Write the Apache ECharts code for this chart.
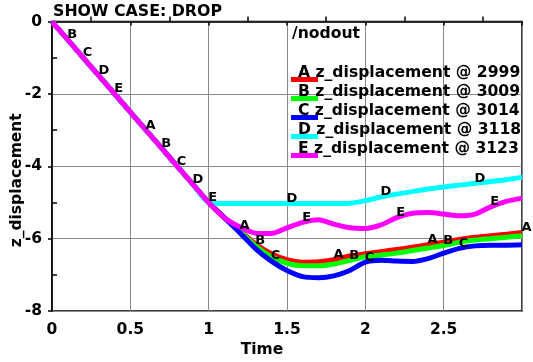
<!DOCTYPE html>
<html><head><meta charset="utf-8">
<script src="https://cdn.jsdelivr.net/npm/echarts@6/dist/echarts.min.js"></script>
<style>html,body{margin:0;padding:0;background:#fff}#c{width:533px;height:362px}</style>
</head><body><div id="c"></div>
<script>
// ---- data ----
const times = [0,0.1,0.2,0.3,0.4,0.5,0.6,0.7,0.8,0.9,1.0,1.1,1.2,1.3,1.4,1.5,1.6,1.7,1.8,1.9,2.0,2.1,2.2,2.3,2.4,2.5,2.6,2.7,2.8,2.9,3.0];
const seriesNames = ['A z_displacement @ 2999','B z_displacement @ 3009','C z_displacement @ 3014','D z_displacement @ 3118','E z_displacement @ 3123'];
const letters = ['A','B','C','D','E'];
const valuesA = [0,-0.5,-1.0,-1.5,-2.0,-2.5,-3.0,-3.5,-4.0,-4.5,-5.0,-5.42,-5.78,-6.15,-6.42,-6.58,-6.65,-6.64,-6.58,-6.48,-6.42,-6.36,-6.30,-6.24,-6.17,-6.10,-6.02,-5.96,-5.92,-5.88,-5.83];
const valuesB = [0,-0.5,-1.0,-1.5,-2.0,-2.5,-3.0,-3.5,-4.0,-4.5,-5.0,-5.42,-5.80,-6.20,-6.50,-6.68,-6.75,-6.75,-6.70,-6.60,-6.50,-6.45,-6.40,-6.33,-6.26,-6.19,-6.10,-6.04,-6.00,-5.96,-5.92];
const valuesC = [0,-0.5,-1.0,-1.5,-2.0,-2.5,-3.0,-3.5,-4.0,-4.5,-5.0,-5.42,-5.84,-6.28,-6.62,-6.88,-7.05,-7.08,-7.03,-6.88,-6.65,-6.60,-6.62,-6.63,-6.55,-6.40,-6.27,-6.20,-6.18,-6.18,-6.17];
const valuesD = [0,-0.5,-1.0,-1.5,-2.0,-2.5,-3.0,-3.5,-4.0,-4.5,-5.0,-5.03,-5.03,-5.03,-5.03,-5.03,-5.03,-5.03,-5.03,-5.02,-4.95,-4.85,-4.77,-4.70,-4.63,-4.57,-4.52,-4.47,-4.42,-4.37,-4.30];
const valuesE = [0,-0.5,-1.0,-1.5,-2.0,-2.5,-3.0,-3.5,-4.0,-4.5,-5.0,-5.42,-5.68,-5.85,-5.86,-5.70,-5.55,-5.48,-5.60,-5.70,-5.72,-5.62,-5.42,-5.30,-5.28,-5.32,-5.37,-5.32,-5.12,-4.97,-4.88];
const labelTimesA = [0.6,1.2,1.8,2.4,3.0];
const labelTimesB = [0.1,0.7,1.3,1.9,2.5];
const labelTimesC = [0.2,0.8,1.4,2.0,2.6];
const labelTimesD = [0.3,0.9,1.5,2.1,2.7];
const labelTimesE = [0.4,1.0,1.6,2.2,2.8];
const xTickValues = [0,0.5,1,1.5,2,2.5,3];
const yTickValues = [-8,-6,-4,-2,0];

// ---- build ----
const allValues = [valuesA,valuesB,valuesC,valuesD,valuesE];
const allLabelTimes = [labelTimesA,labelTimesB,labelTimesC,labelTimesD,labelTimesE];
const colors = ['#ff0000','#00ff00','#0000ff','#00ffff','#ff00ff'];
const FONT = 'DejaVu Sans';

function interp(vals, t){
  for (let i=0;i<times.length-1;i++){
    if (t>=times[i]-1e-9 && t<=times[i+1]+1e-9){
      const f=(t-times[i])/(times[i+1]-times[i]);
      return vals[i]+(vals[i+1]-vals[i])*f;
    }
  }
  return vals[vals.length-1];
}

const series = [];
seriesNames.forEach((name,i)=>{
  series.push({
    name, type:'line', data: times.map((t,j)=>[t, allValues[i][j]]),
    showSymbol:false, smooth:0.25, color: colors[i],
    lineStyle:{width:5, color: colors[i]}, z: 2+i*0.01, animation:false
  });
});
letters.forEach((L,i)=>{
  series.push({
    type:'scatter', symbolSize:1, itemStyle:{color:'rgba(0,0,0,0)'}, z:10, animation:false, silent:true,
    data: allLabelTimes[i].map(t=>[t, interp(allValues[i], t)]),
    label:{show:true, formatter:L, position:[0,2], align:'left', verticalAlign:'bottom', opacity:1,
      color:'#000', fontFamily:FONT, fontWeight:'bold', fontSize:13}
  });
});

const chart = echarts.init(document.getElementById('c'), null, {renderer:'canvas'});
chart.setOption({
  backgroundColor:'#fff',
  animation:false,
  title:[
    {text:'SHOW CASE: DROP', left:53, top:4, padding:0, textStyle:{fontFamily:FONT, fontWeight:'bold', fontSize:15.8, color:'#000'}},
    {text:'/nodout', left:292, top:26, padding:0, textStyle:{fontFamily:FONT, fontWeight:'bold', fontSize:15.6, color:'#000'}}
  ],
  legend:{
    data: seriesNames, orient:'vertical', left:291, top:63, padding:0,
    itemWidth:27, itemHeight:19, itemGap:0, selectedMode:false,
    icon:'path://M0,0L27,0L27,0.01L0,0.01Z M0,14L27,14L27,19L0,19Z',
    textStyle:{fontFamily:FONT, fontWeight:'bold', fontSize:15.6, color:'#000', padding:[0,0,0,-25]}
  },
  grid:{left:52, top:21.6, right:11, bottom:51, containLabel:false, outerBoundsMode:'none', show:true, borderColor:'#000', borderWidth:1.5, backgroundColor:'transparent'},
  xAxis:{
    type:'value', min:xTickValues[0], max:xTickValues[xTickValues.length-1], interval:0.5,
    name:'Time', nameLocation:'middle', nameGap:31, nameMoveOverlap:false,
    nameTextStyle:{fontFamily:FONT, fontWeight:'bold', fontSize:15.5, color:'#000', padding:[0,50,0,0]},
    axisLine:{lineStyle:{color:'#000', width:1.5}},
    axisTick:{show:true, inside:false, length:4, lineStyle:{color:'#000', width:1.5}},
    minorTick:{show:true, splitNumber:2, length:-5, lineStyle:{color:'#000', width:1.5}},
    splitLine:{show:true, lineStyle:{color:'#888', width:1}},
    axisLabel:{showMaxLabel:false, margin:11, fontFamily:FONT, fontWeight:'bold', fontSize:15.5, color:'#000'}
  },
  yAxis:{
    type:'value', min:yTickValues[0], max:yTickValues[yTickValues.length-1], interval:2,
    name:'z_displacement', nameLocation:'middle', nameGap:27, nameMoveOverlap:false,
    nameTextStyle:{fontFamily:FONT, fontWeight:'bold', fontSize:15.5, color:'#000', padding:[0,28,0,0]},
    axisLine:{lineStyle:{color:'#000', width:1.5}},
    axisTick:{show:true, inside:false, length:4, lineStyle:{color:'#000', width:1.5}},
    minorTick:{show:true, splitNumber:2, length:-5, lineStyle:{color:'#000', width:1.5}},
    splitLine:{show:true, lineStyle:{color:'#888', width:1}},
    axisLabel:{margin:10, fontFamily:FONT, fontWeight:'bold', fontSize:15.5, color:'#000'}
  },
  series
});
</script></body></html>
